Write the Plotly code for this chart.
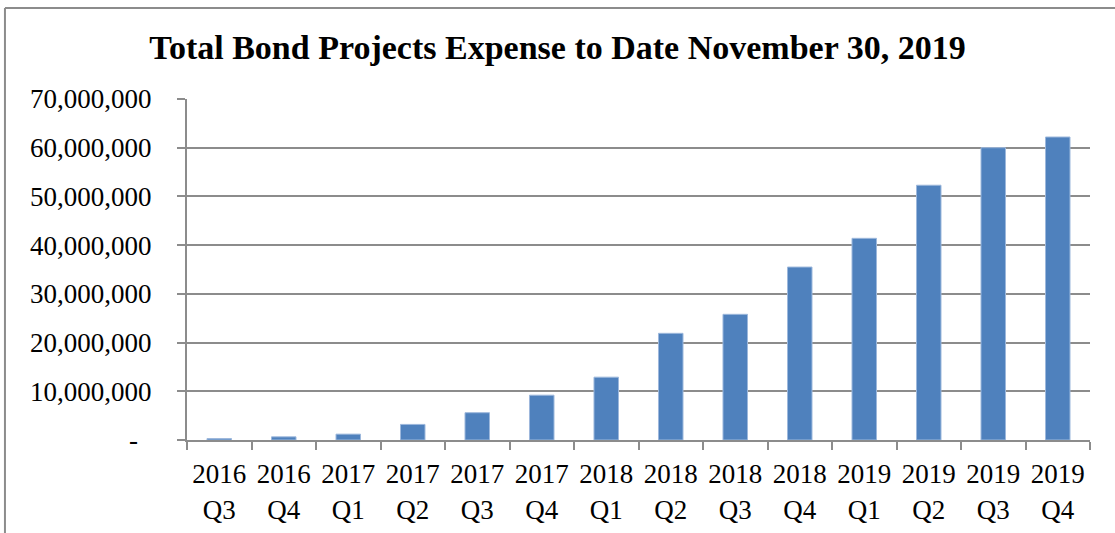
import plotly.graph_objects as go

# quarter labels and cumulative expense to date
years = ["2016", "2016", "2017", "2017", "2017", "2017", "2018",
         "2018", "2018", "2018", "2019", "2019", "2019", "2019"]
quarters = ["Q3", "Q4", "Q1", "Q2", "Q3", "Q4", "Q1",
            "Q2", "Q3", "Q4", "Q1", "Q2", "Q3", "Q4"]
expense = [300000, 650000, 1200000, 3200000, 5600000, 9200000, 12900000,
           21900000, 25800000, 35500000, 41400000, 52300000, 60000000, 62200000]

y_ticks = [0, 10000000, 20000000, 30000000, 40000000, 50000000, 60000000, 70000000]
y_labels = ["-\u00a0\u00a0", "10,000,000", "20,000,000", "30,000,000", "40,000,000",
            "50,000,000", "60,000,000", "70,000,000"]

labels = [f"{y}<br>{q}" for y, q in zip(years, quarters)]

fig = go.Figure(go.Bar(
    x=labels,
    y=expense,
    marker=dict(color="#4F81BD", line=dict(color="#9DB8DC", width=1)),
))

font = "Liberation Serif, DejaVu Serif, serif"
grey = "#8c8c8c"
# plot area: x 187..1090, y 99..440
fig.update_layout(
    width=1115, height=533,
    margin=dict(l=187, r=25, t=99, b=93),
    paper_bgcolor="white", plot_bgcolor="white",
    bargap=0.62,
    showlegend=False,
    font=dict(family=font, size=27, color="black"),
    title=dict(text="<b>Total Bond Projects Expense to Date November 30, 2019</b>",
               x=0.5, xanchor="center", y=0.912, yanchor="middle",
               font=dict(family=font, size=34, color="black")),
    shapes=[dict(type="line", xref="paper", yref="paper",
                 x0=-0.2016, x1=1.05, y0=1.267, y1=1.267,
                 line=dict(color=grey, width=2)),
            dict(type="line", xref="paper", yref="paper",
                 x0=-0.2016, x1=-0.2016, y0=1.267, y1=-0.5,
                 line=dict(color=grey, width=2))],
)
fig.update_xaxes(
    type="category",
    automargin=False,
    showline=True, linecolor=grey, linewidth=2,
    ticks="outside", tickson="boundaries", ticklen=8, tickcolor=grey, tickwidth=2,
    showgrid=False,
    tickangle=0,
    ticklabelstandoff=9,
    tickfont=dict(family=font, size=27),
)
fig.update_yaxes(
    range=[0, 70000000],
    automargin=False,
    tickvals=y_ticks, ticktext=y_labels,
    showline=True, linecolor=grey, linewidth=2,
    ticks="outside", ticklen=8, tickcolor=grey, tickwidth=2,
    showgrid=True, gridcolor=grey, gridwidth=1.5,
    zeroline=False,
    ticklabelstandoff=20,
    tickfont=dict(family=font, size=27),
)

fig.write_html("out.html", config={"displayModeBar": False},
               post_script="document.body.style.margin='0';")
